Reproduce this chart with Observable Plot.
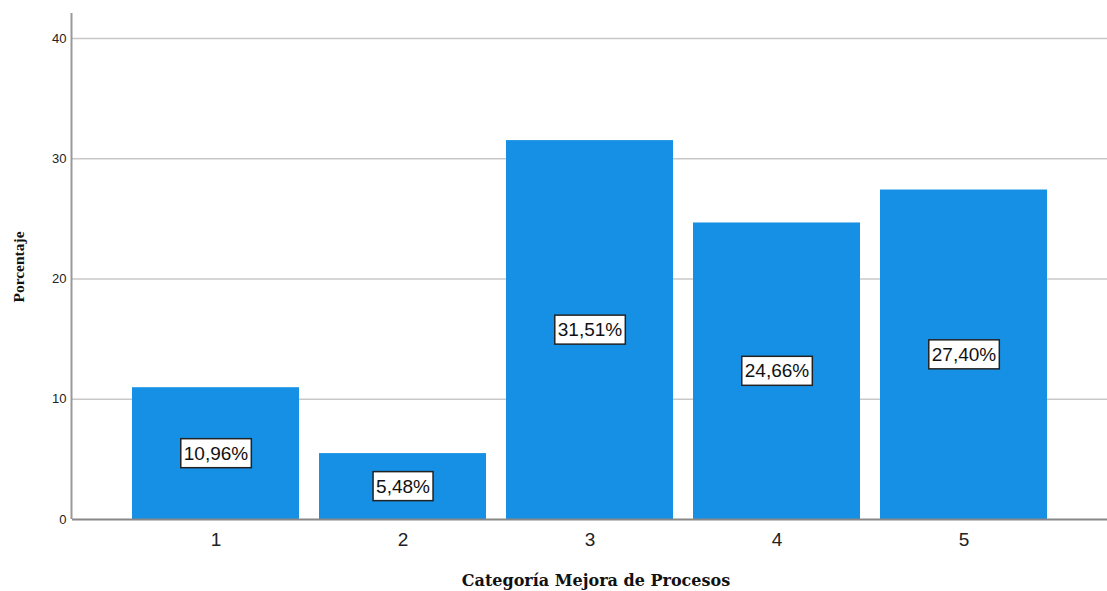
<!DOCTYPE html>
<html><head><meta charset="utf-8">
<script src="https://cdn.jsdelivr.net/npm/d3@7"></script>
<script src="https://cdn.jsdelivr.net/npm/@observablehq/plot@0.6"></script>
<style>body{margin:0;background:#fff;} svg{display:block;}</style>
</head><body><div id="chart"></div>
<script>
const categories = ["1","2","3","4","5"];
const values = [10.96, 5.48, 31.51, 24.66, 27.40];
const labels = ["10,96%","5,48%","31,51%","24,66%","27,40%"];
const yTicks = [0,10,20,30,40];

const data = categories.map((c,i)=>({cat:c, value:values[i], label:labels[i]}));

const chart = Plot.plot({
  width: 1107, height: 591,
  marginLeft: 72, marginRight: 0, marginTop: 13, marginBottom: 72,
  style: {fontFamily: "Liberation Sans, Arial, sans-serif", background: "#fff"},
  x: {domain: categories, paddingInner: 0.107, paddingOuter: 0.32, label: null},
  y: {domain: [0, 42.08], label: null},
  marks: [
    Plot.ruleY(yTicks.filter(d=>d>0), {stroke: "#c8c8c8", strokeWidth: 1.5}),
    Plot.barY(data, {x: "cat", y: "value", fill: "#1590e5"}),
    Plot.axisY(yTicks, {tickSize: 0, tickPadding: 6, fontSize: 13, label: null, fill: "#222"}),
    Plot.axisX({tickSize: 0, tickPadding: 13, fontSize: 19, label: null, fill: "#222"}),
    Plot.ruleY([0], {stroke: "#888", strokeWidth: 2}),
    Plot.text(data, {x: "cat", y: d => d.value/2, text: "label", fontSize: 19, fill: "#111", className: "barlabel"})
  ]
});
document.getElementById("chart").appendChild(chart);

// y axis line
const svg = d3.select(chart);
svg.append("line").attr("x1",71.5).attr("x2",71.5).attr("y1",13).attr("y2",519)
  .attr("stroke","#999").attr("stroke-width",2);

// white boxes behind labels
svg.selectAll("g.barlabel text").each(function(){
  const bb = this.getBBox();
  const g = this.parentNode;
  const tr = this.getAttribute("transform");
  const r = document.createElementNS("http://www.w3.org/2000/svg","rect");
  r.setAttribute("x", bb.x - 3); r.setAttribute("y", bb.y - 4);
  r.setAttribute("width", bb.width + 6); r.setAttribute("height", bb.height + 8);
  r.setAttribute("fill","#fff"); r.setAttribute("stroke","#222"); r.setAttribute("stroke-width",1.5);
  if (tr) r.setAttribute("transform", tr);
  g.insertBefore(r, this);
});

// axis titles
svg.append("text").attr("x",596).attr("y",586).attr("text-anchor","middle")
  .attr("font-family","DejaVu Serif, serif").attr("font-weight","bold").attr("font-size",16)
  .attr("fill","#111").text("Categoría Mejora de Procesos");
svg.append("text").attr("transform","translate(24,267) rotate(-90)").attr("text-anchor","middle")
  .attr("font-family","Liberation Serif, serif").attr("font-weight","bold").attr("font-size",15.5)
  .attr("fill","#111").text("Porcentaje");
</script></body></html>
